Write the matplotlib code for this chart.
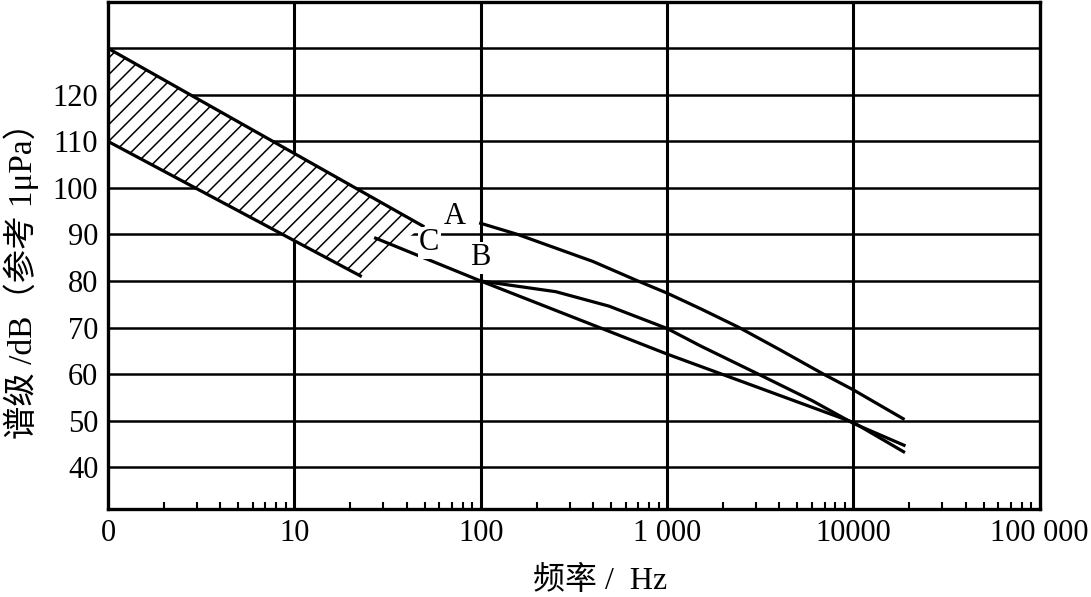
import numpy as np
import matplotlib
matplotlib.use('Agg')
import matplotlib.pyplot as plt
from matplotlib.ticker import FixedLocator, LogLocator, NullFormatter

plt.rcParams['font.family'] = ['Liberation Serif', 'Noto Sans CJK SC']
plt.rcParams['hatch.linewidth'] = 1.1

# hatched band (ambient noise range), boundary lines
band_up_f = [1, 49]
band_up_db = [130, 91.8]
band_lo_f = [1, 22.6]
band_lo_db = [110, 81.1]

# curve A
a_f = [100, 158, 400, 698, 1000, 1520, 2410, 4000, 6900, 10000, 18500]
a_db = [92.4, 90, 84.2, 80, 77.4, 74.0, 70.1, 65.3, 60, 56.6, 50.4]

# curve B
b_f = [100, 253, 488, 1000, 1520, 3085, 6000, 10000, 18700]
b_db = [80, 77.7, 74.6, 69.8, 66.0, 60, 54.3, 49.4, 44.7]

# line C
c_f = [27.3, 100, 1000, 10000, 18600]
c_db = [89.2, 80, 64.3, 49.6, 43.3]

xticks = [1, 10, 100, 1000, 10000, 100000]
xticklabels = ['0', '10', '100', '1 000', '10000', '100 000']
yticks = [40, 50, 60, 70, 80, 90, 100, 110, 120, 130]
yticklabels = ['40', '50', '60', '70', '80', '90', '100', '110', '120', '']

fig = plt.figure(figsize=(10.91, 5.97), dpi=100)
ax = fig.add_axes([0.099, 0.1474, 0.854, 0.8496])
ax.set_xscale('log')
ax.set_xlim(1, 1e5)
ax.set_ylim(31, 140)

# grid
for f in xticks[1:-1]:
    ax.axvline(f, color='black', lw=2.2, zorder=1)
for v in yticks:
    ax.axhline(v, color='black', lw=1.8, zorder=1)

# hatched band
poly_f = band_up_f + band_lo_f[::-1]
poly_db = band_up_db + band_lo_db[::-1]
ax.fill(poly_f, poly_db, facecolor='white', edgecolor='black', hatch='//', lw=0, zorder=2)
ax.plot(band_up_f, band_up_db, color='black', lw=2.3, zorder=3)
ax.plot(band_lo_f, band_lo_db, color='black', lw=2.3, zorder=3)

ax.plot(a_f, a_db, color='black', lw=2.3, zorder=3)
ax.plot(b_f, b_db, color='black', lw=2.3, zorder=3)
ax.plot(c_f, c_db, color='black', lw=2.3, zorder=3)

lbl = dict(fontsize=22, ha='center', va='center', zorder=4,
           bbox=dict(facecolor='white', edgecolor='none', pad=1))
ax.text(73, 93.9, 'A', **lbl)
ax.text(53, 88.2, 'C', **lbl)
ax.text(100, 85.0, 'B', **lbl)

ax.xaxis.set_major_locator(FixedLocator(xticks))
ax.set_xticklabels(xticklabels, fontsize=22)
ax.xaxis.set_minor_locator(LogLocator(base=10, subs=np.arange(2, 10), numticks=20))
ax.xaxis.set_minor_formatter(NullFormatter())
ax.tick_params(axis='x', which='major', length=0, pad=7)
ax.tick_params(axis='x', which='minor', direction='in', length=5, width=1.5)
ax.set_yticks(yticks)
ax.set_yticklabels(yticklabels, fontsize=22)
ax.tick_params(axis='y', length=0, pad=7)

for s in ax.spines.values():
    s.set_linewidth(2.4)
    s.set_zorder(5)

ax.set_xlabel('频率 /  Hz', fontsize=23)
ax.xaxis.set_label_coords(0.528, -0.112)
ax.set_ylabel('谱级 /dB（参考 1μPa）', fontsize=24)
ax.yaxis.set_label_coords(-0.074, 0.466)

fig.savefig('out.png', dpi=100)
